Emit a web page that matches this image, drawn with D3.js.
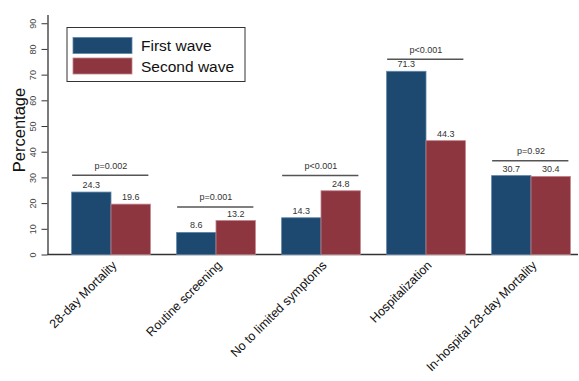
<!DOCTYPE html>
<html>
<head>
<meta charset="utf-8">
<script src="https://cdn.jsdelivr.net/npm/d3@7"></script>
<style>
  html, body { margin: 0; padding: 0; background: #fff; }
  svg { display: block; font-family: "Liberation Sans", Arial, sans-serif; }
</style>
</head>
<body>
<svg id="chart" width="579" height="381"></svg>
<script>
// Outcomes compared between the two waves
const categories = ["28-day Mortality", "Routine screening", "No to limited symptoms", "Hospitalization", "In-hospital 28-day Mortality"];
const seriesNames = ["First wave", "Second wave"];
const firstWave = [24.3, 8.6, 14.3, 71.3, 30.7];
const secondWave = [19.6, 13.2, 24.8, 44.3, 30.4];
const pValues = ["p=0.002", "p=0.001", "p<0.001", "p<0.001", "p=0.92"];
const bracketLevels = [30.8, 18.5, 30.7, 76.0, 36.5];
const yTicks = [0, 10, 20, 30, 40, 50, 60, 70, 80, 90];

const colors = ["#1d4971", "#8d3640"];
const strokes = ["#5f86aa", "#c0828a"];

const svg = d3.select("#chart");

const x = d3.scaleBand()
  .domain(categories)
  .range([58.5, 583.5])
  .paddingInner(0.25)
  .paddingOuter(0.125);

const xs = d3.scaleBand()
  .domain(seriesNames)
  .range([0, x.bandwidth()]);

const y = d3.scaleLinear()
  .domain([0, 93.4])
  .range([254.5, 14.5]);

const rows = categories.map((c, i) => ({
  cat: c,
  vals: [firstWave[i], secondWave[i]],
  p: pValues[i],
  level: bracketLevels[i]
}));

// Y axis
const yAxis = d3.axisLeft(y).tickValues(yTicks).tickSize(6).tickSizeOuter(0);
const yG = svg.append("g").attr("transform", "translate(47.5,0)").call(yAxis);
yG.select(".domain").attr("stroke", "#333").attr("stroke-width", 1.3);
yG.selectAll(".tick line").attr("stroke", "#333").attr("stroke-width", 1);
yG.selectAll(".tick text")
  .attr("font-size", 9)
  .attr("fill", "#444")
  .attr("text-anchor", "middle")
  .attr("dy", null)
  .attr("x", 0)
  .attr("transform", "translate(-14.5,0) rotate(-90)")
  .attr("dominant-baseline", "central");

// Y axis title
svg.append("text")
  .attr("transform", "translate(25,130) rotate(-90)")
  .attr("text-anchor", "middle")
  .attr("font-size", 16.5)
  .attr("fill", "#111")
  .text("Percentage");

// X axis baseline
svg.append("line")
  .attr("x1", 47.5).attr("x2", 578)
  .attr("y1", y(0)).attr("y2", y(0))
  .attr("stroke", "#333").attr("stroke-width", 1.3);

// Bars
const groups = svg.append("g").selectAll("g")
  .data(rows)
  .join("g")
  .attr("transform", d => `translate(${x(d.cat)},0)`);

groups.selectAll("rect")
  .data(d => d.vals.map((v, j) => ({ v, j })))
  .join("rect")
  .attr("x", d => xs(seriesNames[d.j]))
  .attr("y", d => y(d.v))
  .attr("width", xs.bandwidth())
  .attr("height", d => y(0) - y(d.v))
  .attr("fill", d => colors[d.j])
  .attr("stroke", d => strokes[d.j])
  .attr("stroke-width", 0.8);

// Value labels
groups.selectAll("text.val")
  .data(d => d.vals.map((v, j) => ({ v, j })))
  .join("text")
  .attr("class", "val")
  .attr("x", d => xs(seriesNames[d.j]) + xs.bandwidth() / 2)
  .attr("y", d => y(d.v) - 4)
  .attr("text-anchor", "middle")
  .attr("font-size", 9)
  .attr("fill", "#333")
  .text(d => d.v.toFixed(1));

// Significance brackets
groups.append("line")
  .attr("x1", 0.5)
  .attr("x2", x.bandwidth() - 2)
  .attr("y1", d => y(d.level))
  .attr("y2", d => y(d.level))
  .attr("stroke", "#555")
  .attr("stroke-width", 1.5);

groups.append("text")
  .attr("x", x.bandwidth() / 2)
  .attr("y", d => y(d.level) - 6.5)
  .attr("text-anchor", "middle")
  .attr("font-size", 9)
  .attr("fill", "#333")
  .text(d => d.p);

// Category labels
svg.append("g").selectAll("text")
  .data(categories)
  .join("text")
  .attr("transform", c => `translate(${x(c) + x.bandwidth() / 2 + 6.5},266) rotate(-45)`)
  .attr("text-anchor", "end")
  .attr("font-size", 12.5)
  .attr("fill", "#111")
  .text(c => c);

// Legend
const legend = svg.append("g");
legend.append("rect")
  .attr("x", 67).attr("y", 27.5)
  .attr("width", 178).attr("height", 54)
  .attr("fill", "#fff")
  .attr("stroke", "#333").attr("stroke-width", 1);

const items = legend.selectAll("g.item")
  .data(seriesNames)
  .join("g")
  .attr("class", "item")
  .attr("transform", (d, i) => `translate(0,${i * 20.5})`);

items.append("rect")
  .attr("x", 73).attr("y", 37.5)
  .attr("width", 59).attr("height", 16)
  .attr("fill", (d, i) => colors[i])
  .attr("stroke", (d, i) => strokes[i])
  .attr("stroke-width", 0.8);

items.append("text")
  .attr("x", 141).attr("y", 51)
  .attr("font-size", 15.5)
  .attr("fill", "#111")
  .text(d => d);
</script>
</body>
</html>
